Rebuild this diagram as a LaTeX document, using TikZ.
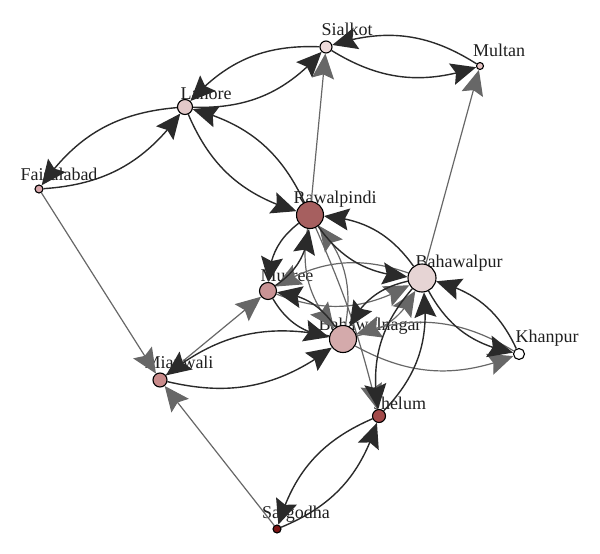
\documentclass[tikz,border=0pt]{standalone}
\usepackage{fontspec}
\setmainfont{Liberation Serif}
\usetikzlibrary{arrows.meta,bending}
\pgfdeclarelayer{labl}
\pgfdeclarelayer{edg}
\pgfsetlayers{labl,edg,main}
\definecolor{dkc}{HTML}{2A2A2A}
\definecolor{gyc}{HTML}{676767}
\definecolor{cSi}{HTML}{EDDADA}
\definecolor{cMu}{HTML}{E6C4C4}
\definecolor{cLa}{HTML}{E3C9C9}
\definecolor{cFa}{HTML}{D9A9AD}
\definecolor{cRa}{HTML}{A65F5F}
\definecolor{cMr}{HTML}{C99395}
\definecolor{cBp}{HTML}{E6D4D4}
\definecolor{cBn}{HTML}{D4AAAB}
\definecolor{cMi}{HTML}{C88A8A}
\definecolor{cJh}{HTML}{A34A4A}
\definecolor{cSa}{HTML}{7B1414}
\begin{document}
\begin{tikzpicture}[x=1pt,y=-1pt,
  city/.style={circle, draw=black, line width=1.1pt, inner sep=0pt},
  cname/.style={font=\fontsize{18}{20}\selectfont, text=black!88, inner sep=0pt},
  de/.style={draw=dkc, line width=1.4pt, -{Stealth[length=25pt,width=22pt,inset=4pt]}},
  ge/.style={draw=gyc, line width=1.2pt, -{Stealth[length=25pt,width=22pt,inset=4pt]}},
  br/.style={bend right=25}
]
\useasboundingbox (0,0) rectangle (600,554);
% nodes
\node[city, fill=cSi, minimum size=12pt] (Si) at (326,47) {};
\node[city, fill=cMu, minimum size=7pt] (Mu) at (480,66) {};
\node[city, fill=cLa, minimum size=15pt] (La) at (185,107) {};
\node[city, fill=cFa, minimum size=8pt] (Fa) at (39,189) {};
\node[city, fill=cRa, minimum size=27pt] (Ra) at (310,215) {};
\node[city, fill=cMr, minimum size=17pt] (Mr) at (268,291) {};
\node[city, fill=cBp, minimum size=28pt] (Bp) at (422,278) {};
\node[city, fill=cBn, minimum size=27pt] (Bn) at (343,339) {};
\node[city, fill=white, minimum size=11pt] (Kh) at (519,354) {};
\node[city, fill=cMi, minimum size=14pt] (Mi) at (160,380) {};
\node[city, fill=cJh, minimum size=13pt] (Jh) at (379,416) {};
\node[city, fill=cSa, minimum size=8pt] (Sa) at (277,529) {};
% labels
\begin{pgfonlayer}{labl}
\node[cname] (lSi) at (347,29) {Sialkot};
\node[cname] (lMu) at (499,50) {Multan};
\node[cname] (lLa) at (206,93) {Lahore};
\node[cname] (lFa) at (59,174) {Faisalabad};
\node[cname] (lRa) at (335,199) {Rawalpindi};
\node[cname] (lMr) at (287,276) {Murree};
\node[cname] (lBp) at (459,263) {Bahawalpur};
\node[cname] (lBn) at (370,326) {Bahawalnagar};
\node[cname] (lKh) at (547,338) {Khanpur};
\node[cname] (lMi) at (179,362) {Mianwali};
\node[cname] (lJh) at (400,403) {Jhelum};
\node[cname] (lSa) at (296,514) {Sargodha};
\end{pgfonlayer}
% edges
\begin{pgfonlayer}{edg}
% grey straight
\draw[ge] (Ra) to (Si);
\draw[ge] (Bp) to (Mu);
\draw[ge] (Fa) to (Mi);
\draw[ge] (Sa) to (Mi);
\draw[ge] (Mi) to (Mr);
\draw[ge] (Ra) to[bend left=5] (Jh);
% grey pairs
\draw[ge] (Bp) to[br] (Mr);
\draw[ge] (Mr) to[br] (Bp);
\draw[ge] (Ra) to[br] (Bn);
\draw[ge] (Bn) to[br] (Ra);
\draw[ge] (Bn) to[br] (Kh);
\draw[ge] (Kh) to[br] (Bn);
\draw[ge] (Bn) to[br] (Bp);
% dark pairs
\draw[de] (Si) to[br] (La);
\draw[de] (La) to[br] (Si);
\draw[de] (Si) to[br] (Mu);
\draw[de] (Mu) to[br] (Si);
\draw[de] (La) to[br] (Fa);
\draw[de] (Fa) to[br] (La);
\draw[de] (La) to[br] (Ra);
\draw[de] (Ra) to[br] (La);
\draw[de] (Ra) to[br] (Mr);
\draw[de] (Mr) to[br] (Ra);
\draw[de] (Ra) to[br] (Bp);
\draw[de] (Bp) to[br] (Ra);
\draw[de] (Mr) to[br] (Bn);
\draw[de] (Bn) to[br] (Mr);
\draw[de] (Bp) to[br] (Bn);
\draw[de] (Bp) to[br] (Kh);
\draw[de] (Kh) to[br] (Bp);
\draw[de] (Bp) to[br] (Jh);
\draw[de] (Jh) to[br] (Bp);
\draw[de] (Mi) to[br] (Bn);
\draw[de] (Bn) to[br] (Mi);
\draw[de] (Sa) to[br] (Jh);
\draw[de] (Jh) to[br] (Sa);
\end{pgfonlayer}
\end{tikzpicture}
\end{document}
